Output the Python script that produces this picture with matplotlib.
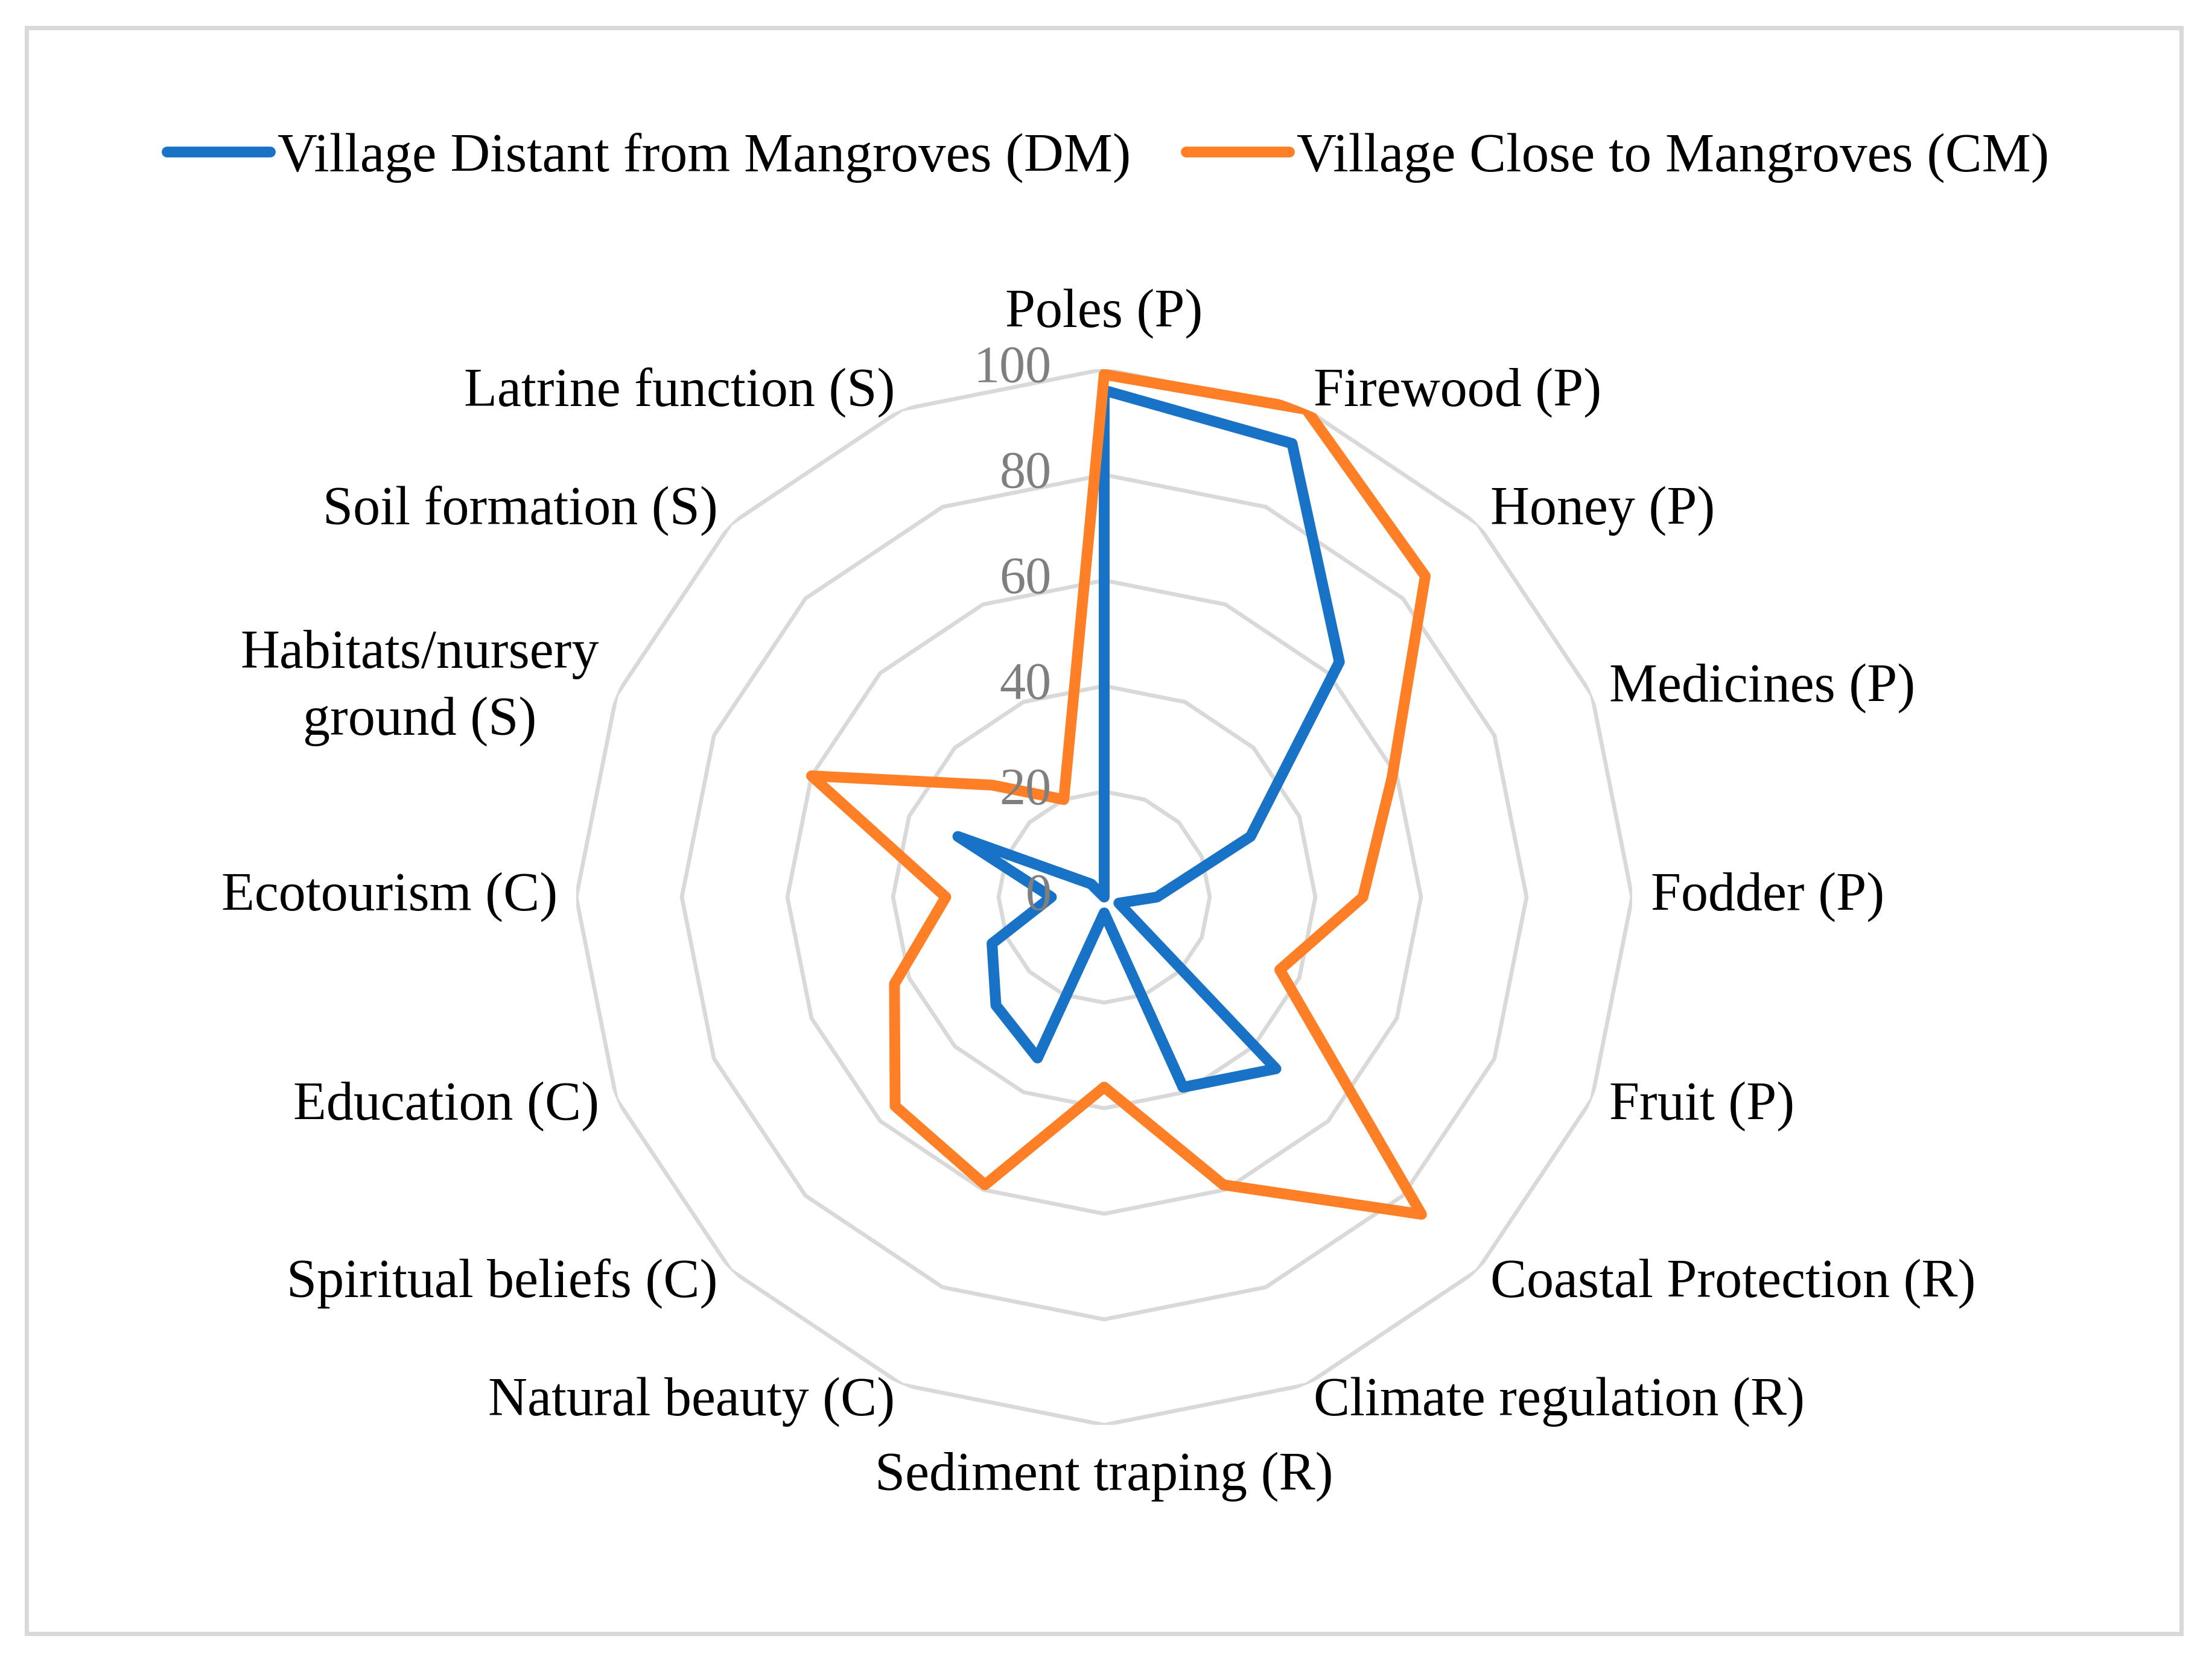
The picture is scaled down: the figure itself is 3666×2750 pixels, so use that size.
import numpy as np
import matplotlib
matplotlib.use("Agg")
from matplotlib import pyplot as plt
from matplotlib.patches import Rectangle
from matplotlib.transforms import offset_copy

plt.rcParams['font.family'] = ['Liberation Serif', 'DejaVu Serif']

# categories, clockwise from the top
categories = ['Poles (P)', 'Firewood (P)', 'Honey (P)', 'Medicines (P)', 'Fodder (P)',
              'Fruit (P)', 'Coastal Protection (R)', 'Climate regulation (R)',
              'Sediment traping (R)', 'Natural beauty (C)', 'Spiritual beliefs (C)',
              'Education (C)', 'Ecotourism (C)', 'Habitats/nursery\nground (S)',
              'Soil formation (S)', 'Latrine function (S)']

dm = [96, 93, 63, 30, 10, 3, 46, 39, 3, 33, 29, 23, 10, 30, 3.5, 0]
cm = [99, 100, 86, 59, 49, 36, 85, 59, 36, 59, 56, 43, 30, 60, 30, 20]

series_names = ['Village Distant from Mangroves (DM)', 'Village Close to Mangroves (CM)']
colors = ['#1873C6', '#FE7F25']
rings = [20, 40, 60, 80, 100]
tick_labels = ['0', '20', '40', '60', '80', '100']

W, H, DPI = 3666, 2750, 300
fig = plt.figure(figsize=(W / DPI, H / DPI), dpi=DPI)

# outer frame
fig.patches.append(Rectangle((44 / W, 1 - 2708 / H), (3615 - 44) / W, (2708 - 46) / H,
                             transform=fig.transFigure, fill=False,
                             edgecolor='#D9D9D9', linewidth=1.7))

cx, cy, R = 1830 / W, 1 - 1487 / H, 875
ax = fig.add_axes([cx - R / W, cy - R / H, 2 * R / W, 2 * R / H], projection='polar')
ax.set_theta_zero_location('N')
ax.set_theta_direction(-1)
ax.set_ylim(0, 100)
ax.grid(False)
ax.set_xticks([])
ax.set_yticks([])
ax.spines['polar'].set_visible(False)
ax.patch.set_visible(False)

n = len(categories)
theta = np.linspace(0, 2 * np.pi, n, endpoint=False)
theta_c = np.append(theta, theta[0])

# polygon grid
for r in rings:
    ax.plot(theta_c, [r] * (n + 1), color='#D9D9D9', linewidth=1.6, zorder=1)

for vals, col, name in zip([dm, cm], colors, series_names):
    ax.plot(theta_c, list(vals) + [vals[0]], color=col, linewidth=4.3,
            solid_joinstyle='round', solid_capstyle='round', label=name, zorder=3)

# category labels
for t, lab in zip(theta, categories):
    s = np.sin(t)
    if abs(s) < 0.01:
        ha = 'center'
        rr = 110.6 if np.cos(t) > 0 else 109.8
    else:
        ha = 'left' if s > 0 else 'right'
        rr = 103.5
    ax.text(t, rr, lab, ha=ha, va='center', fontsize=21.6, color='black',
            multialignment='center', linespacing=1.45)

# radial tick labels
trans = offset_copy(ax.transData, fig=fig, x=-21, y=0, units='points')
for r, tl in zip([0] + rings, tick_labels):
    ax.text(0, r, tl, transform=trans, ha='right', va='center',
            fontsize=20.7, color='#7F7F7F', zorder=5)

fig.legend(loc='center', bbox_to_anchor=(0.501, 0.905), ncol=2, frameon=False,
           fontsize=21.9, handlelength=1.88, handletextpad=0.13, columnspacing=1.0)

fig.savefig('out.png', dpi=DPI)
